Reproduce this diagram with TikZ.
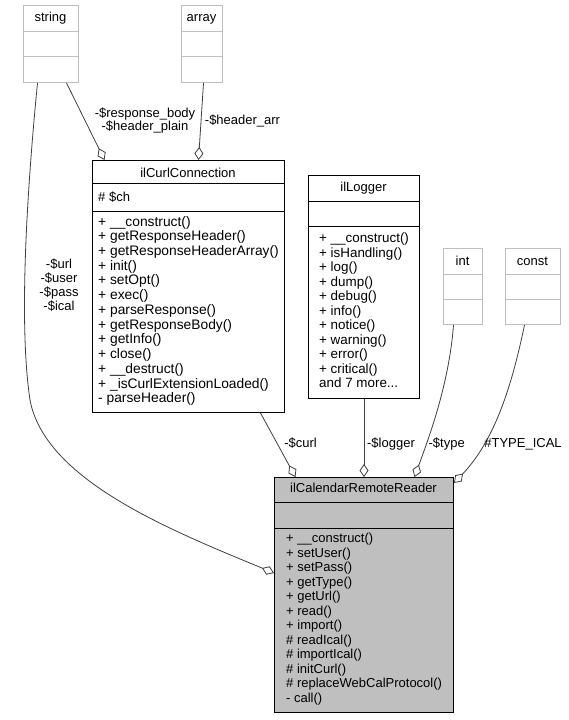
\documentclass[tikz,border=0pt]{standalone}
\usepackage{fontspec}
\setmainfont{Liberation Sans}
\usetikzlibrary{arrows.meta}

\definecolor{edgegray}{HTML}{404040}
\definecolor{boxgray}{HTML}{BFBFBF}

\tikzset{
	classbox/.style={draw=black, line width=1pt, anchor=north west, inner sep=0pt},
	extbox/.style={draw=boxgray, line width=1pt, anchor=north west, inner sep=0pt},
	members/.style={anchor=north west, align=left, inner sep=0pt},
	title/.style={anchor=base, inner sep=0pt},
	rel/.style={edgegray, line width=0.8pt, -{Diamond[open, length=13pt, width=9pt]}},
	rellabel/.style={align=center, inner sep=0pt},
}

\begin{document}
\begin{tikzpicture}[x=1pt, y=-1pt, font=\fontsize{13}{14.6}\selectfont]
\fill[white] (0,0) rectangle (569,720);

%% Fremde Typen (grau)
\begin{scope}
	\node[extbox, minimum width=55pt, minimum height=77pt] (string) at (23,5) {};
	\draw[boxgray, line width=1pt] (string.north west) ++(0,26) -- ++(55,0);
	\draw[boxgray, line width=1pt] (string.north west) ++(0,51) -- ++(55,0);
	\node[title] (stringT) at (50.5,21.7) {string};

	\node[extbox, minimum width=41pt, minimum height=77pt] (array) at (181,5) {};
	\draw[boxgray, line width=1pt] (array.north west) ++(0,26) -- ++(41,0);
	\draw[boxgray, line width=1pt] (array.north west) ++(0,51) -- ++(41,0);
	\node[title] (arrayT) at (201.5,21.7) {array};

	\node[extbox, minimum width=39pt, minimum height=76pt] (int) at (443,248) {};
	\draw[boxgray, line width=1pt] (int.north west) ++(0,26) -- ++(39,0);
	\draw[boxgray, line width=1pt] (int.north west) ++(0,51) -- ++(39,0);
	\node[title] (intT) at (462.5,265) {int};

	\node[extbox, minimum width=55pt, minimum height=76pt] (const) at (505,248) {};
	\draw[boxgray, line width=1pt] (const.north west) ++(0,26) -- ++(55,0);
	\draw[boxgray, line width=1pt] (const.north west) ++(0,51) -- ++(55,0);
	\node[title] (constT) at (532.5,265) {const};
\end{scope}

%% ilCurlConnection
\begin{scope}
	\node[classbox, minimum width=192pt, minimum height=252pt] (curl) at (92,160) {};
	\draw[line width=1pt] (curl.north west) ++(0,23) -- ++(192,0);
	\draw[line width=1pt] (curl.north west) ++(0,51) -- ++(192,0);
	\node[title] (curlT) at (188,177) {ilCurlConnection};
	\node[title, anchor=base west] (curlA) at (98,201.7) {\# \$ch};
	\node[members, font=\fontsize{13.8}{14.72}\selectfont] (curlM) at (98,215.9) {+ \_\_construct()\\
		+ getResponseHeader()\\
		+ getResponseHeaderArray()\\
		+ init()\\
		+ setOpt()\\
		+ exec()\\
		+ parseResponse()\\
		+ getResponseBody()\\
		+ getInfo()\\
		+ close()\\
		+ \_\_destruct()\\
		+ \_isCurlExtensionLoaded()\\
		- parseHeader()};
\end{scope}

%% ilLogger
\begin{scope}
	\node[classbox, minimum width=111pt, minimum height=223pt] (logger) at (308,175) {};
	\draw[line width=1pt] (logger.north west) ++(0,26) -- ++(111,0);
	\draw[line width=1pt] (logger.north west) ++(0,51) -- ++(111,0);
	\node[title] (loggerT) at (363.5,191) {ilLogger};
	\node[members, font=\fontsize{13.4}{14.5}\selectfont] (loggerM) at (319,232.9) {+ \_\_construct()\\
		+ isHandling()\\
		+ log()\\
		+ dump()\\
		+ debug()\\
		+ info()\\
		+ notice()\\
		+ warning()\\
		+ error()\\
		+ critical()\\
		and 7 more...};
\end{scope}

%% ilCalendarRemoteReader
\begin{scope}
	\node[classbox, fill=boxgray, minimum width=179pt, minimum height=235pt] (reader) at (274,477) {};
	\draw[line width=1pt] (reader.north west) ++(0,25) -- ++(179,0);
	\draw[line width=1pt] (reader.north west) ++(0,51) -- ++(179,0);
	\node[title] (readerT) at (363.5,492.7) {ilCalendarRemoteReader};
	\node[members, font=\fontsize{13}{14.5}\selectfont] (readerM) at (286,533.2) {+ \_\_construct()\\
		+ setUser()\\
		+ setPass()\\
		+ getType()\\
		+ getUrl()\\
		+ read()\\
		+ import()\\
		\# readIcal()\\
		\# importIcal()\\
		\# initCurl()\\
		\# replaceWebCalProtocol()\\
		- call()};
\end{scope}

%%%%%%%%%%%%%%%%

%% Aggregationen
\draw[rel] ([xshift=-13.5pt]string.south) .. controls (28,180) and (18,320) .. (30,400)
	.. controls (45,480) and (170,530) .. ([yshift=-96pt]reader.north west);
\draw[rel] ([xshift=15.5pt]string.south) -- ([xshift=-84pt]curl.north);
\draw[rel] ([xshift=1.5pt]array.south) -- ([xshift=10pt]curl.north);
\draw[rel] ([xshift=72pt]curl.south) -- ([xshift=-68.5pt]reader.north);
\draw[rel] (logger.south) -- (reader.north);
\draw[rel] ([xshift=-9.5pt]int.south) .. controls (449,385) and (428,440) .. ([xshift=50.5pt]reader.north);
\draw[rel] ([xshift=-8.5pt]const.south) .. controls (512,385) and (495,440) .. ([yshift=-6pt]reader.north east);

%% Beschriftungen
\node[rellabel, anchor=north, font=\fontsize{13}{14}\selectfont] (lblString) at (59,258.6) {-\$url\\-\$user\\-\$pass\\-\$ical};
\node[rellabel, anchor=north, font=\fontsize{13}{13.4}\selectfont] (lblBody) at (145,107.5) {-\$response\_body\\-\$header\_plain};
\node[rellabel, anchor=base] (lblArr) at (242.5,124) {-\$header\_arr};
\node[rellabel, anchor=base] (lblCurl) at (300.5,447.7) {-\$curl};
\node[rellabel, anchor=base] (lblLogger) at (391,447.7) {-\$logger};
\node[rellabel, anchor=base] (lblType) at (446.7,447.7) {-\$type};
\node[rellabel, anchor=base] (lblIcal) at (523,447.7) {\#TYPE\_ICAL};

%\draw (current bounding box.south west) rectangle (current bounding box.north east);
\end{tikzpicture}
\end{document}
